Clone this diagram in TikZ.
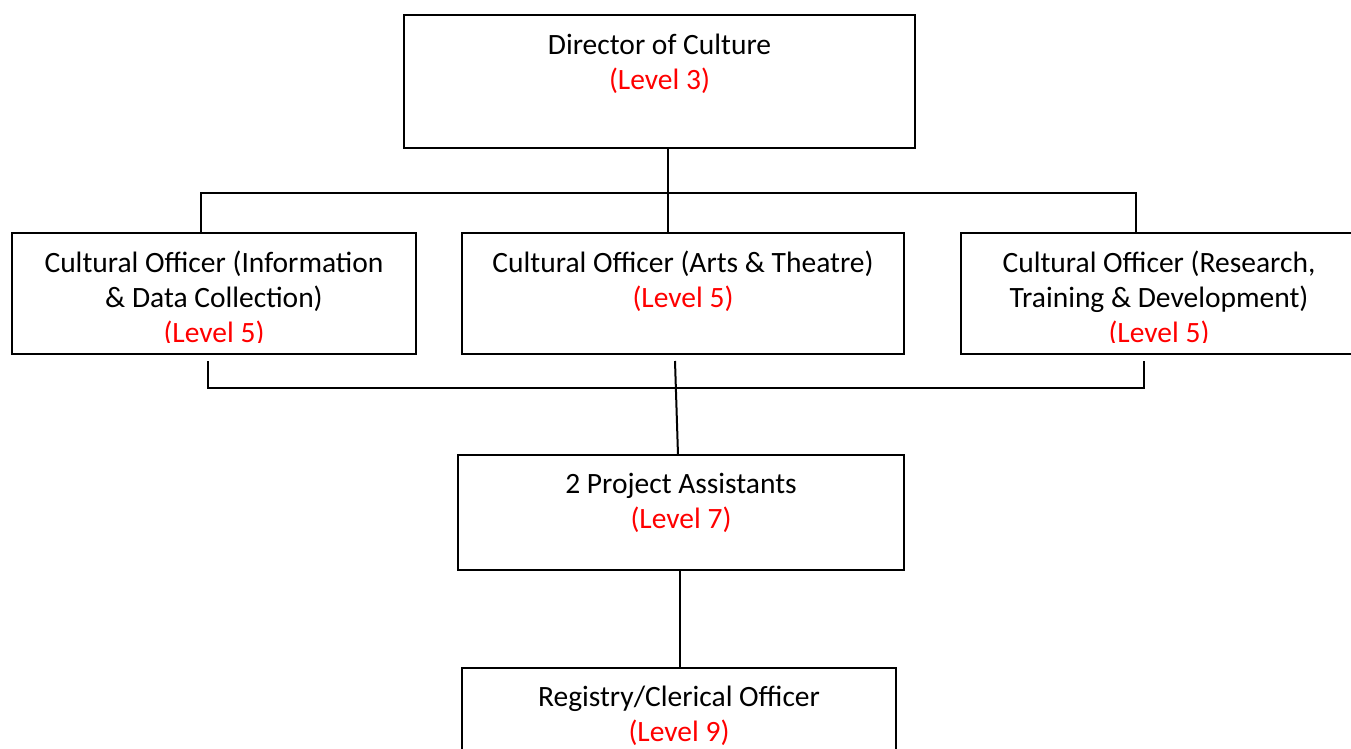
\documentclass[tikz,border=0pt]{standalone}
\usepackage{fontspec}
\setmainfont{Carlito}
\tikzset{
  box/.style={draw, line width=2pt, inner sep=0pt, outer sep=0pt},
  boxtext/.style={anchor=base, align=center, inner sep=0pt, font=\fontsize{29.5}{35}\selectfont},
  link/.style={line width=2pt}
}
\newcommand{\lvl}[1]{\textcolor{red}{(Level #1)}}
\begin{document}
\begin{tikzpicture}[x=1pt,y=-1pt]
  \clip (0,0) rectangle (1351,749);
  % boxes
  \node[box, minimum width=511pt, minimum height=133pt] (dir) at (659.5,81.5) {};
  \node[box, minimum width=404pt, minimum height=121pt] (info) at (214,293.5) {};
  \node[box, minimum width=442pt, minimum height=121pt] (arts) at (683,293.5) {};
  \node[box, minimum width=392pt, minimum height=121pt] (research) at (1157,293.5) {};
  \node[box, minimum width=446pt, minimum height=115pt] (assist) at (681,512.5) {};
  \node[box, minimum width=434pt, minimum height=115pt] (registry) at (679,725.5) {};
  % texts (base = last line)
  \node[boxtext] (tdir) at ([yshift=-74.5pt]dir.north) {Director of Culture\\\lvl{3}};
  \node[boxtext] (tarts) at ([yshift=-74.5pt]arts.north) {Cultural Officer (Arts \& Theatre)\\\lvl{5}};
  \begin{scope}
    \clip (0,235) rectangle (1351,342.5);
    \node[boxtext] (tinfo) at ([yshift=-109.5pt]info.north) {Cultural Officer (Information\\\& Data Collection)\\\lvl{5}};
    \node[boxtext, xshift=2pt] (tresearch) at ([yshift=-109.5pt]research.north) {Cultural Officer (Research,\\Training \& Development)\\\lvl{5}};
  \end{scope}
  \node[boxtext] (tassist) at ([yshift=-73pt]assist.north) {2 Project Assistants\\\lvl{7}};
  \node[boxtext] (tregistry) at ([yshift=-73.5pt]registry.north) {Registry/Clerical Officer\\\lvl{9}};
  % upper bracket
  \coordinate (j1) at (668,193);
  \coordinate (b1) at (201,193);
  \coordinate (b3) at (1136,193);
  \draw[link] (dir.south -| j1) -- (j1);
  \draw[link] (info.north -| b1) -- (b1) -- (b3) -- (research.north -| b3);
  \draw[link] (j1) -- (arts.north -| j1);
  % lower bracket
  \coordinate (c1) at (208,361);
  \coordinate (c3) at (1144,361);
  \coordinate (m1) at (675,361);
  \draw[link] (c1) -- (208,388) -- (1144,388) -- (c3);
  \draw[link] (m1) -- (assist.north -| 678,0);
  \draw[link] (assist.south -| 680,0) -- (registry.north -| 680,0);
\end{tikzpicture}
\end{document}
